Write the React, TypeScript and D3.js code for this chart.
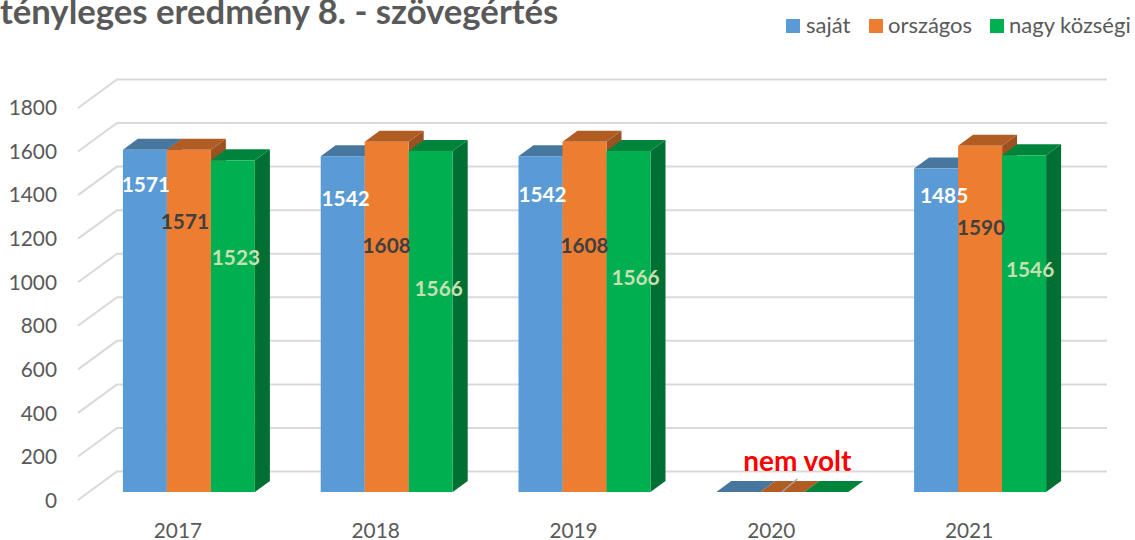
import * as d3 from 'd3';

const years = ['2017', '2018', '2019', '2020', '2021'];
const sajat = [1571, 1542, 1542, 0, 1485];
const orszagos = [1571, 1608, 1608, 0, 1590];
const nagyKozsegi = [1523, 1566, 1566, 0, 1546];
const yTicks = [0, 200, 400, 600, 800, 1000, 1200, 1400, 1600, 1800];
const seriesNames = ['saját', 'országos', 'nagy községi'];
const missingYear = '2020';
const missingLabel = 'nem volt';

const width = 1135;
const height = 540;

// hand-placed data labels in the original, so their spots live here: [x offset from bar centre, baseline y]
const labelSpots = [
  [[1, 192], [-4, 229], [3, 265]],
  [[3, 206], [0, 253], [8, 296]],
  [[2, 202], [0, 253], [7, 285]],
  [],
  [[8, 203], [1, 235], [6, 277]],
];

const seriesStyle = [
  { front: '#5b9bd5', top: '#47769f', side: '#3f6e99', label: '#ffffff', values: sajat, name: seriesNames[0] },
  { front: '#ed7d31', top: '#b05c23', side: '#9c5120', label: '#404040', values: orszagos, name: seriesNames[1] },
  { front: '#00b050', top: '#00843c', side: '#006f33', label: '#c6e0b4', values: nagyKozsegi, name: seriesNames[2] },
];

// --- fake 3D: floor depth of the wall and of the bars
const wallDx = 39;
const wallDy = -28.5;
const barInsetX = 12;
const barInsetY = -8;
const barDx = 15;
const barDy = -11;
const barW = 44;

const xScale = d3.scaleBand<string>().domain(years).range([78, 1067]);
const yScale = d3.scaleLinear().domain([0, 1800]).range([500, 108]);
// tick labels sit a little apart from the gridlines
const yLabelScale = d3.scaleLinear().domain([0, 1800]).range([508, 115]);

const poly = (pts: number[][]) => pts.map(p => p.join(',')).join(' ');

export default function App() {
  const floorY = yScale(0) + barInsetY;
  const gridX0 = xScale.range()[0];
  const gridX1 = xScale.range()[1];

  return (
    <svg
      width={width}
      height={height}
      viewBox={`0 0 ${width} ${height}`}
      style={{ position: 'absolute', left: 0, top: 0, fontFamily: 'Lato, sans-serif' }}
    >
      <rect width={width} height={height} fill="#fff" />

      <text x={0} y={24} fontSize={34.7} fontWeight={700} fill="#595959">
        tényleges eredmény 8. - szövegértés
      </text>

      {/* legend */}
      {[
        { x: 786, tx: 806, i: 0 },
        { x: 869, tx: 888, i: 1 },
        { x: 990, tx: 1009, i: 2 },
      ].map(({ x, tx, i }) => (
        <g key={i}>
          <rect x={x} y={19} width={14} height={14} fill={seriesStyle[i].front} />
          <text x={tx} y={33} fontSize={22} fill="#595959">{seriesNames[i]}</text>
        </g>
      ))}

      {/* gridlines: side wall + back wall */}
      {yTicks.map(t => (
        <polyline
          key={t}
          points={poly([
            [gridX0, yScale(t)],
            [gridX0 + wallDx, yScale(t) + wallDy],
            [gridX1 + wallDx + 1, yScale(t) + wallDy],
          ])}
          fill="none"
          stroke="#d9d9d9"
          strokeWidth={2}
        />
      ))}

      {/* y axis labels */}
      {yTicks.map(t => (
        <text key={t} x={57} y={yLabelScale(t)} textAnchor="end" fontSize={20.8} fill="#595959">{t}</text>
      ))}

      {/* x axis labels */}
      {years.map(y => (
        <text key={y} x={xScale(y)! + xScale.bandwidth() / 2 + 1} y={538} textAnchor="middle" fontSize={20.8} fill="#595959">{y}</text>
      ))}

      {/* bars */}
      {years.map((year, yi) => {
        const left = xScale(year)! + xScale.bandwidth() / 2 + barInsetX - barW * 1.5;
        return seriesStyle.map((s, si) => {
          const x0 = left + barW * si;
          const x1 = x0 + barW;
          const top = yScale(s.values[yi]) + barInsetY;
          return (
            <g key={si}>
              <polygon
                points={poly([[x1, top], [x1 + barDx, top + barDy], [x1 + barDx, floorY + barDy], [x1, floorY]])}
                fill={s.side}
              />
              <polygon
                points={poly([[x0, top], [x0 + barDx, top + barDy], [x1 + barDx, top + barDy], [x1, top]])}
                fill={s.top}
              />
              <rect x={x0} y={top} width={barW} height={floorY - top} fill={s.front} />
            </g>
          );
        });
      })}

      {/* data labels, on top of every bar */}
      {years.map((year, yi) => {
        const left = xScale(year)! + xScale.bandwidth() / 2 + barInsetX - barW * 1.5;
        return labelSpots[yi].map(([dx, y], si) => (
          <text
            key={`${year}-${si}`}
            x={left + barW * si + barW / 2 + dx}
            y={y}
            textAnchor="middle"
            fontSize={20.8}
            fontWeight={700}
            fill={seriesStyle[si].label}
          >
            {seriesStyle[si].values[yi]}
          </text>
        ));
      })}

      {/* the year with no test */}
      {(() => {
        const c = xScale(missingYear)! + xScale.bandwidth() / 2 + barInsetX;
        return (
          <g>
            <line x1={c - 0.5} y1={floorY} x2={c + barDx} y2={floorY - 13} stroke="#a6a6a6" strokeWidth={1.5} />
            <text x={c + 15} y={471} textAnchor="middle" fontSize={28} fontWeight={700} fill="#ff0000">{missingLabel}</text>
          </g>
        );
      })()}
    </svg>
  );
}
